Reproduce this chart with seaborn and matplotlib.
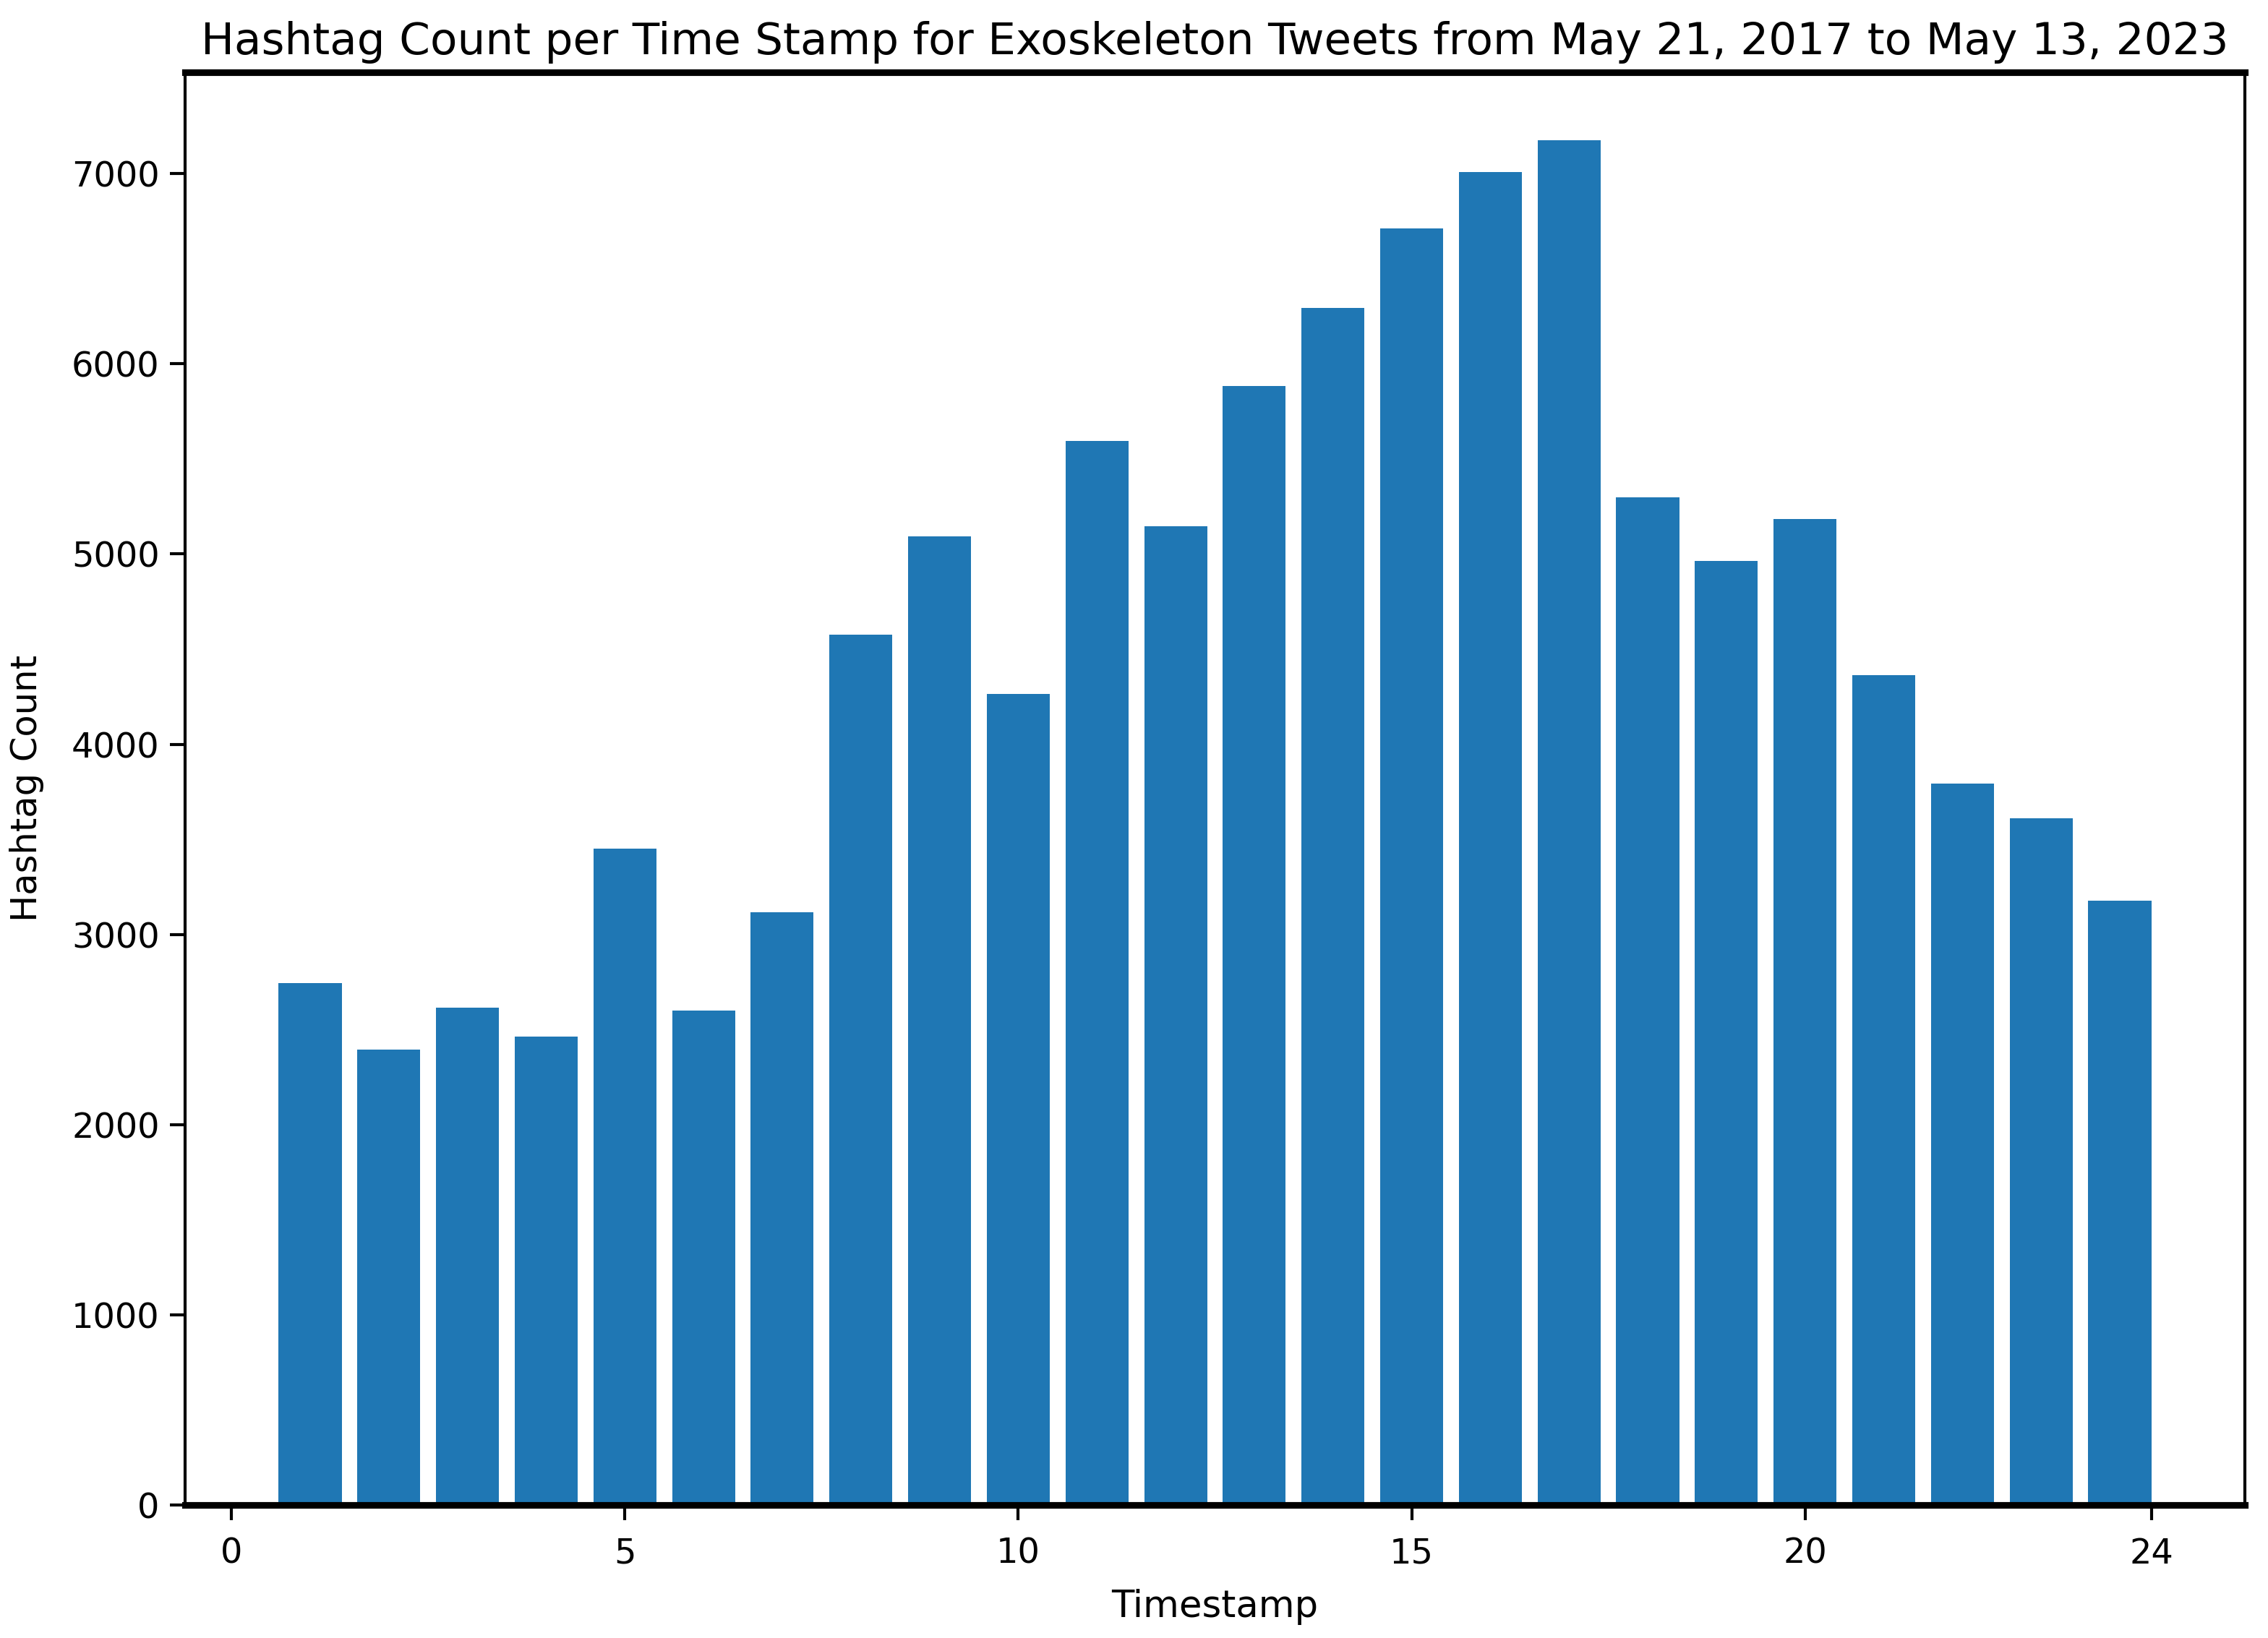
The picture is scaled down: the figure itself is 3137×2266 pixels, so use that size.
import matplotlib
matplotlib.use('AGG')
import matplotlib.pyplot as plt
import seaborn as sns

# Hour of day and hashtag counts
hours = list(range(1, 25))
counts = [2744, 2394, 2615, 2463, 3451, 2599, 3116, 4575, 5092, 4264,
          5594, 5146, 5883, 6293, 6711, 7008, 7175, 5298, 4963, 5184,
          4363, 3793, 3610, 3177]

x_ticks = [0, 5, 10, 15, 20, 24.4]
x_tick_labels = ['0', '5', '10', '15', '20', '24']
y_ticks = [0, 1000, 2000, 3000, 4000, 5000, 6000, 7000]

title = 'Hashtag Count per Time Stamp for Exoskeleton Tweets from May 21, 2017 to May 13, 2023'

plt.rcParams['font.family'] = ['DejaVu Sans']

fig, ax = plt.subplots(figsize=(3137 / 300, 2266 / 300), dpi=300)
fig.subplots_adjust(left=0.0816, right=0.9898, top=0.956, bottom=0.0812)

sns.barplot(x=hours, y=counts, native_scale=True, color='#1f77b4',
            saturation=1, width=0.8, linewidth=0, ax=ax)

ax.set_xlim(-0.59, 25.59)
ax.set_ylim(0, max(counts) * 1.05)
ax.set_xticks(x_ticks, labels=x_tick_labels)
ax.set_yticks(y_ticks)
ax.tick_params(labelsize=11.5, length=5, width=1)
ax.tick_params(axis='x', pad=5.5)

ax.set_title(title, fontsize=14.7)
ax.set_xlabel('Timestamp', fontsize=12.3, labelpad=6)
ax.set_ylabel('Hashtag Count', fontsize=11.9, labelpad=9)

# top/bottom frame lines look heavier in the original
for side in ['top', 'bottom']:
    ax.spines[side].set_linewidth(2.2)
for side in ['left', 'right']:
    ax.spines[side].set_linewidth(1.0)

plt.savefig('out.png', dpi=300)
